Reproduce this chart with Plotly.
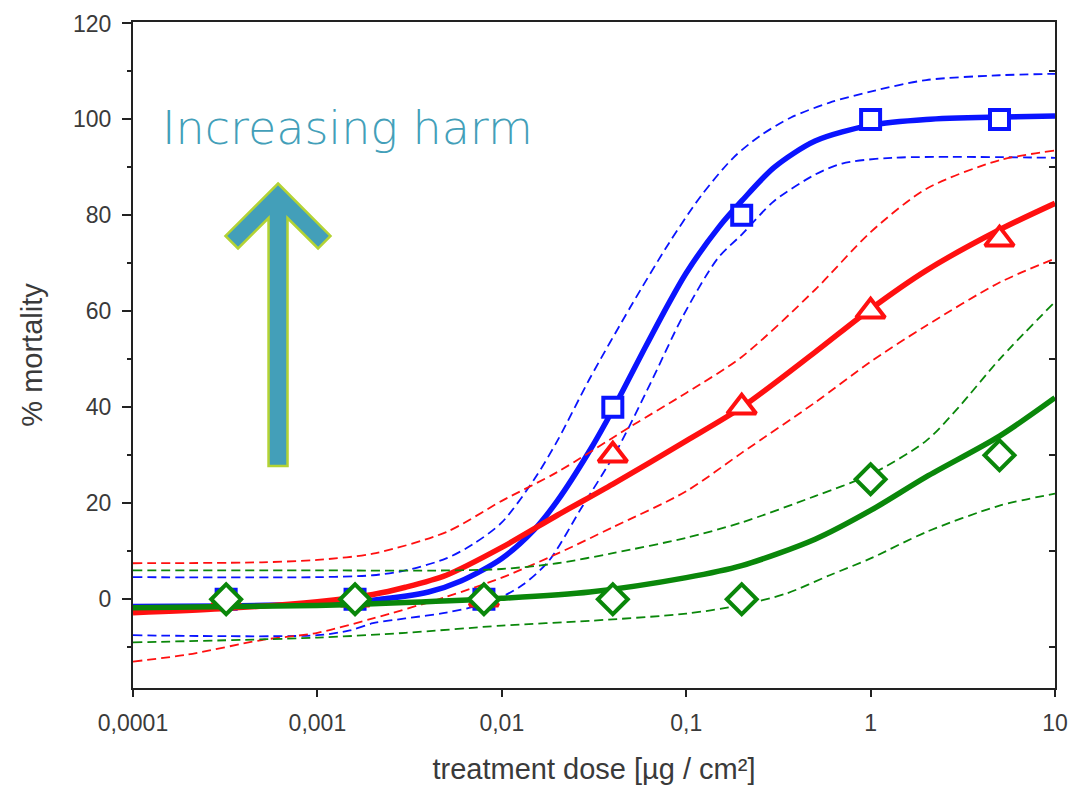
import plotly.graph_objects as go

# ---------------- data ----------------
dose = [0.00032, 0.0016, 0.008, 0.04, 0.2, 1, 5]
blue_pts = [0, 0, 0, 40, 80, 100, 100]
red_pts = [0, 0, 0, 30, 40, 60, 75]
green_pts = [0, 0, 0, 0, 0, 25, 30]

blue_fit_x = [0.0001, 0.0003, 0.001, 0.002, 0.004, 0.006, 0.01, 0.015, 0.02, 0.03, 0.04, 0.06, 0.08, 0.1, 0.15, 0.2, 0.3, 0.5, 1, 2, 5, 10]
blue_fit_y = [-1.5, -1.4, -1.0, -0.2, 1.5, 3.8, 8.5, 14.5, 20.5, 31.0, 39.5, 52.5, 61.5, 68.0, 77.5, 83.0, 90.0, 95.5, 98.8, 100.0, 100.5, 100.7]
blue_up_x = [0.0001, 0.001, 0.002, 0.003, 0.005, 0.007, 0.01, 0.015, 0.02, 0.03, 0.05, 0.08, 0.12, 0.18, 0.25, 0.37, 0.6, 1, 2, 5, 10]
blue_up_y = [4.6, 4.6, 5.0, 6.0, 8.5, 11.5, 16.0, 25.0, 33.0, 46.0, 61.0, 74.0, 84.0, 92.0, 96.5, 100.4, 103.5, 105.8, 108.2, 109.2, 109.5]
blue_lo_x = [0.0001, 0.001, 0.0015, 0.002, 0.003, 0.005, 0.008, 0.01, 0.013, 0.018, 0.027, 0.042, 0.064, 0.096, 0.148, 0.2, 0.3, 0.5, 0.7, 1.3, 10]
blue_lo_y = [-7.5, -7.5, -6.5, -5.0, -4.0, -2.8, -1.0, 0.5, 3.0, 8.0, 19.0, 31.0, 45.0, 59.0, 71.0, 76.0, 83.0, 88.5, 90.8, 92.0, 92.0]

red_fit_x = [0.0001, 0.0003, 0.001, 0.002, 0.003, 0.005, 0.01, 0.02, 0.04, 0.1, 0.2, 0.5, 1, 2, 5, 10]
red_fit_y = [-2.8, -2.0, -0.5, 1.0, 2.5, 5.0, 10.8, 17.5, 24.0, 33.0, 40.0, 51.5, 60.5, 68.5, 77.0, 82.5]
red_up_x = [0.0001, 0.0005, 0.001, 0.002, 0.005, 0.01, 0.02, 0.05, 0.1, 0.2, 0.5, 1, 2, 5, 10]
red_up_y = [7.5, 7.7, 8.2, 9.5, 14.0, 20.5, 26.5, 36.0, 43.0, 50.5, 64.5, 76.5, 85.5, 91.5, 93.5]
red_lo_x = [0.0001, 0.0002, 0.0005, 0.001, 0.002, 0.005, 0.01, 0.02, 0.04, 0.1, 0.2, 0.5, 1, 2, 5, 10]
red_lo_y = [-13.0, -11.5, -8.5, -7.0, -4.0, 0.5, 4.5, 9.5, 15.0, 22.5, 30.5, 41.0, 49.5, 57.0, 66.0, 71.0]

green_fit_x = [0.0001, 0.001, 0.003, 0.01, 0.03, 0.1, 0.2, 0.5, 1, 2, 5, 10]
green_fit_y = [-1.8, -1.3, -0.7, 0.2, 1.5, 4.5, 7.0, 12.5, 18.5, 25.5, 34.0, 42.0]
green_up_x = [0.0001, 0.001, 0.005, 0.01, 0.02, 0.04, 0.1, 0.2, 0.5, 1, 2, 3, 5, 10]
green_up_y = [6.0, 6.0, 6.0, 6.3, 7.5, 9.6, 12.8, 16.0, 21.5, 26.0, 33.0, 40.0, 50.0, 62.0]
green_lo_x = [0.0001, 0.001, 0.003, 0.01, 0.03, 0.1, 0.2, 0.35, 0.6, 1, 2, 5, 10]
green_lo_y = [-9.0, -8.0, -7.0, -5.5, -4.5, -3.0, -1.2, 1.2, 5.0, 8.5, 14.0, 19.5, 22.0]

x_tickvals = [0.0001, 0.001, 0.01, 0.1, 1, 10]
x_ticktext = ["0,0001", "0,001", "0,01", "0,1", "1", "10"]
y_tickvals = [0, 20, 40, 60, 80, 100, 120]
y_minor_ticks = [-10, 10, 30, 50, 70, 90, 110]

BLUE = "#0a14ff"
RED = "#ff1010"
GREEN = "#0a870a"
TEAL = "#439fb9"
LIME = "#b4d334"
AXIS = "#222222"
LABEL = "#3a3a3a"

series = [
    (BLUE, blue_pts, "square", 19, blue_fit_x, blue_fit_y, blue_up_x, blue_up_y, blue_lo_x, blue_lo_y),
    (RED, red_pts, "triangle-up", 25, red_fit_x, red_fit_y, red_up_x, red_up_y, red_lo_x, red_lo_y),
    (GREEN, green_pts, "diamond", 23, green_fit_x, green_fit_y, green_up_x, green_up_y, green_lo_x, green_lo_y),
]

fig = go.Figure()
for color, pts, sym, msize, fx, fy, ux, uy, lx, ly in series:
    for bx, by in ((ux, uy), (lx, ly)):
        fig.add_trace(go.Scatter(x=bx, y=by, mode="lines",
                                 line=dict(color=color, width=1.8, dash="9px,5px",
                                           shape="spline", smoothing=0.8),
                                 showlegend=False, hoverinfo="skip"))
    fig.add_trace(go.Scatter(x=fx, y=fy, mode="lines",
                             line=dict(color=color, width=5.5, shape="spline", smoothing=0.8),
                             showlegend=False))
    fig.add_trace(go.Scatter(x=dose, y=pts, mode="markers",
                             marker=dict(symbol=sym, size=msize,
                                         color="white", line=dict(color=color, width=4)),
                             showlegend=False))

# invisible trace to carry the right-side tick axis
fig.add_trace(go.Scatter(x=[], y=[], yaxis="y2", showlegend=False))

# page has an 8px body margin -> shift everything by that
OFF = 8
L, R, T, B = 133, 1055, 22, 688          # plot area in page pixels
W, H = 1076 - OFF, 794 - OFF

def px(x, y):
    return (x - L) / (R - L), (B - y) / (B - T)

arrow_pts = [(278, 183.5), (330.5, 236), (318, 248.5), (287.5, 218), (287.5, 466),
             (268.5, 466), (268.5, 218), (238, 248.5), (225.5, 236)]
path = "M " + " L ".join("%.4f,%.4f" % px(a, b) for a, b in arrow_pts) + " Z"

tickfont = dict(family="Liberation Sans, Arial, sans-serif", size=23, color=LABEL)
titlefont = dict(family="Liberation Sans, Arial, sans-serif", size=29, color=LABEL)

fig.update_layout(
    width=W, height=H,
    margin=dict(l=L - OFF, r=W - (R - OFF), t=T - OFF, b=H - (B - OFF)),
    paper_bgcolor="white", plot_bgcolor="white",
    font=dict(family="Liberation Sans, Arial, sans-serif", color=LABEL),
    xaxis=dict(type="log", range=[-4, 1], tickvals=x_tickvals, ticktext=x_ticktext,
               ticks="outside", ticklen=7, tickwidth=2, tickcolor=AXIS,
               showline=True, linecolor=AXIS, linewidth=2, mirror=True,
               showgrid=False, zeroline=False, tickfont=tickfont, automargin=False,
               ticklabelstandoff=6,
               title=dict(text="treatment dose [µg / cm²]", font=titlefont, standoff=24)),
    yaxis=dict(range=[-18.5, 120.3], tickvals=y_tickvals, ticks="outside", ticklen=9,
               tickwidth=2, tickcolor=AXIS,
               minor=dict(tickvals=y_minor_ticks, ticks="outside",
                          ticklen=4, tickwidth=2, tickcolor=AXIS),
               showline=True, linecolor=AXIS, linewidth=2, mirror=True,
               showgrid=False, zeroline=False, tickfont=tickfont, automargin=False,
               ticklabelstandoff=6,
               title=dict(text="% mortality", font=titlefont, standoff=22)),
    yaxis2=dict(overlaying="y", side="right", range=[-18.5, 120.3],
                tickvals=y_minor_ticks, ticktext=[""] * len(y_minor_ticks),
                ticks="inside", ticklen=6, tickwidth=2, tickcolor=AXIS,
                showline=False, showgrid=False, zeroline=False, automargin=False),
    shapes=[dict(type="path", xref="paper", yref="paper", path=path,
                 fillcolor=TEAL, line=dict(color=LIME, width=2.5), layer="above")],
    annotations=[dict(text="Increasing harm", xref="paper", yref="paper",
                      x=px(160, 0)[0], y=px(0, 128)[1], xanchor="left", yanchor="middle",
                      showarrow=False,
                      font=dict(family="DejaVu Sans, sans-serif", size=46, weight=300,
                                color=TEAL))],
)

fig.write_html("out.html")
